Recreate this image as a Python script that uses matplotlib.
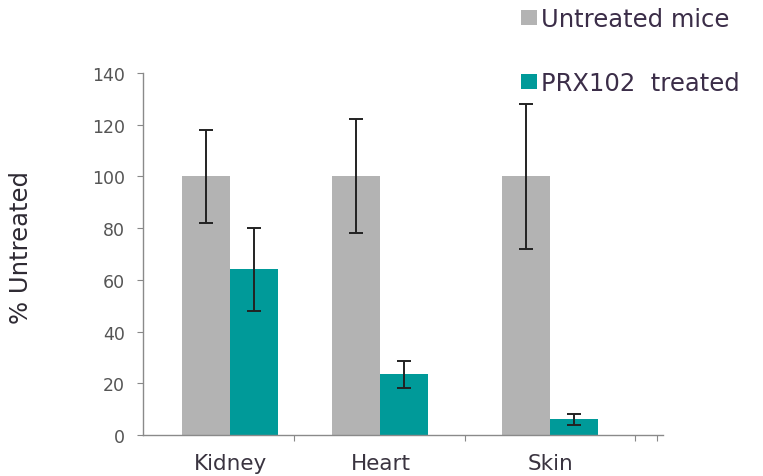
import matplotlib.pyplot as plt
import numpy as np

plt.rcParams['font.family'] = ['DejaVu Sans']

organs = ['Kidney', 'Heart', 'Skin']
untreated = [100, 100, 100]
untreated_err = [18, 22, 28]
treated = [64, 23.5, 6]
treated_err = [16, 5.2, 2.3]

gray = '#b3b3b3'
teal = '#009a99'

fig = plt.figure(figsize=(7.63, 4.77), dpi=100)
ax = fig.add_axes([0.1874, 0.086, 0.6815, 0.759])

# group centres on the category axis
x = np.array([0, 0.94, 2])
w = 0.3
ekw = dict(ecolor='#222222', elinewidth=1.4, capthick=1.4)
ax.bar(x - w / 2, untreated, w, color=gray, label='Untreated mice',
       yerr=untreated_err, capsize=5, error_kw=ekw)
ax.bar(x + w / 2, treated, w, color=teal, label='PRX102  treated',
       yerr=treated_err, capsize=5, error_kw=ekw)

ax.set_xlim(-0.544, 2.706)
ax.set_ylim(0, 140)
ax.set_yticks(np.arange(0, 141, 20))

# boundary ticks without labels, names on minor ticks at the centres
ax.set_xticks([0.4, 1.47, 2.53, 2.67])
ax.set_xticklabels([])
ax.set_xticks(x, minor=True)
ax.set_xticklabels(organs, minor=True)
ax.tick_params(axis='x', which='minor', length=0, pad=13, labelsize=15.5,
               labelcolor='#3a3440')
ax.tick_params(axis='x', which='major', length=4, color='#888888',
               direction='out')
ax.tick_params(axis='y', length=4, color='#888888', labelsize=12.5,
               labelcolor='#555555', pad=9)

for side in ['top', 'right']:
    ax.spines[side].set_visible(False)
for side in ['left', 'bottom']:
    ax.spines[side].set_color('#8a8a8a')
    ax.spines[side].set_linewidth(1.0)

ax.set_ylabel('% Untreated', fontsize=17.5, color='#2e2a33')
ax.yaxis.set_label_coords(-0.212, 0.52)

fig.legend(loc='upper left', bbox_to_anchor=(0.66, 1.018), frameon=False,
           fontsize=17.5, handlelength=0.66, handleheight=0.58,
           handletextpad=0.2, labelspacing=1.62, borderpad=0.2,
           labelcolor='#3b2d48')

fig.savefig('out.png', dpi=100)
